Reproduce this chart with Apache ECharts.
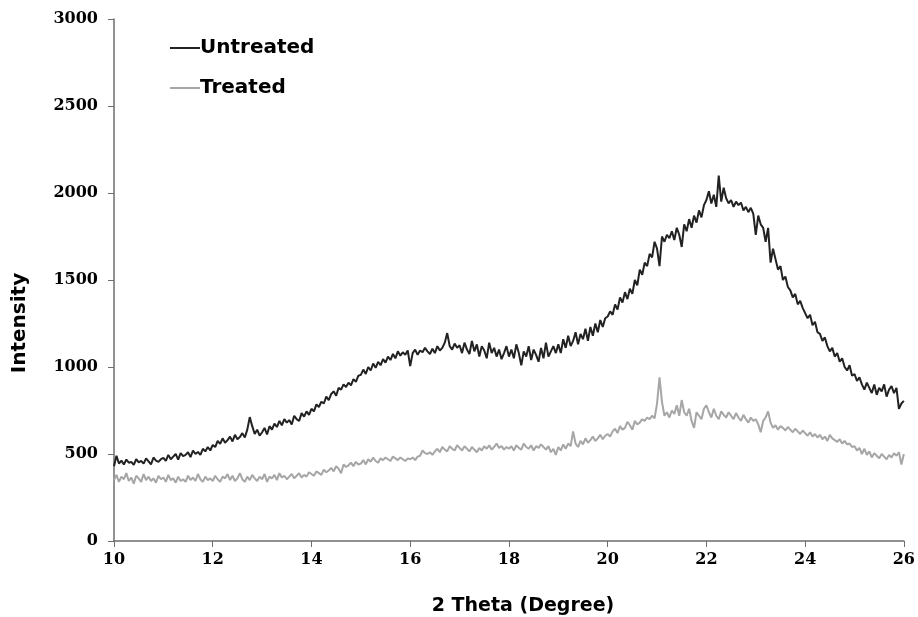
<!DOCTYPE html>
<html>
<head>
<meta charset="utf-8">
<script src="https://cdn.jsdelivr.net/npm/echarts@6/dist/echarts.min.js"></script>
<style>
  html, body { margin: 0; padding: 0; background: #fff; }
  #chart { width: 918px; height: 617px; }
</style>
</head>
<body>
<div id="chart"></div>
<script>
// 2 theta grid: 10 to 26 deg, 0.05 deg step
const thetaStart = 10;
const thetaStep = 0.05;

// intensity, one row per degree (20 points each)
const untreated = [
  430, 490, 445, 462, 440, 468, 450, 455, 438, 470, 452, 460, 445, 475, 458, 440, 480, 462, 455, 470,
  478, 460, 495, 470, 485, 500, 468, 505, 488, 495, 510, 482, 520, 500, 512, 495, 530, 515, 540, 520,
  552, 540, 575, 558, 590, 565, 580, 600, 572, 610, 585, 598, 620, 595, 640, 712, 660, 615, 640, 605,
  625, 650, 612, 660, 640, 675, 655, 690, 665, 700, 680, 695, 670, 720, 700, 690, 735, 715, 745, 725,
  760, 745, 785, 770, 800, 790, 830, 810, 845, 860, 835, 880, 870, 900, 885, 910, 895, 930, 915, 950,
  955, 985, 960, 1000, 980, 1020, 995, 1030, 1010, 1045, 1025, 1060, 1040, 1075, 1050, 1090, 1065, 1085, 1070, 1095,
  1005, 1080, 1100, 1070, 1095, 1085, 1110, 1090, 1075, 1105, 1080, 1120, 1095, 1110, 1140, 1195, 1120, 1100, 1135, 1110,
  1125, 1080, 1140, 1100, 1075, 1150, 1090, 1130, 1060, 1120, 1095, 1050, 1140, 1080, 1110, 1060, 1100, 1045, 1080, 1120,
  1060, 1100, 1050, 1130, 1080, 1010, 1090, 1060, 1120, 1040, 1100, 1070, 1030, 1110, 1050, 1140, 1060, 1090, 1120, 1080,
  1130, 1080, 1160, 1110, 1180, 1120, 1150, 1200, 1130, 1190, 1160, 1220, 1150, 1230, 1180, 1250, 1200, 1270, 1230, 1280,
  1290, 1320, 1300, 1360, 1330, 1400, 1370, 1430, 1390, 1450, 1420, 1500, 1470, 1560, 1530, 1600, 1580, 1650, 1630, 1720,
  1680, 1580, 1750, 1720, 1760, 1740, 1780, 1730, 1800, 1760, 1690, 1820, 1780, 1850, 1800, 1870, 1830, 1900, 1860, 1930,
  1960, 2010, 1940, 1990, 1920, 2100, 1950, 2030, 1970, 1940, 1960, 1920, 1950, 1930, 1945, 1900, 1920, 1890, 1915, 1880,
  1760, 1870, 1820, 1800, 1720, 1800, 1600, 1680, 1620, 1560, 1580, 1500, 1520, 1460, 1440, 1400, 1420, 1360, 1380, 1340,
  1310, 1280, 1300, 1240, 1260, 1200, 1190, 1150, 1170, 1120, 1090, 1110, 1060, 1080, 1030, 1050, 1000, 980, 1010, 950,
  960, 920, 940, 900, 870, 910, 880, 850, 900, 840, 880, 860, 900, 830, 870, 890, 850, 880, 760, 790,
  805
];

const treated = [
  350, 380, 340, 370, 355, 390, 345, 365, 330, 375, 360, 340, 385, 350, 370, 345, 360, 335, 375, 355,
  365, 340, 380, 350, 360, 335, 370, 345, 355, 340, 375, 350, 365, 345, 385, 355, 340, 370, 350, 360,
  345, 375, 355, 340, 370, 360, 385, 350, 375, 345, 360, 390, 355, 340, 370, 350, 380, 360, 345, 370,
  355, 385, 340, 370, 360, 380, 350, 390, 365, 375, 355, 370, 385, 360, 375, 390, 365, 380, 370, 395,
  385, 375, 400, 390, 380, 410, 395, 405, 420, 400, 430, 415, 390, 440, 425, 435, 450, 430, 455, 440,
  445, 465, 440, 470, 455, 480, 460, 450, 475, 465, 480, 470, 460, 485, 475, 465, 480, 470, 460, 475,
  470, 480, 465, 485, 490, 520, 505, 500, 510, 495, 515, 530, 510, 540, 525, 515, 545, 530, 520, 550,
  535, 520, 545, 530, 515, 540, 525, 510, 535, 520, 545, 530, 550, 525, 540, 560, 535, 545, 525, 540,
  530, 545, 520, 550, 535, 525, 560, 540, 530, 550, 520, 545, 535, 555, 540, 525, 545, 510, 530, 495,
  540, 520, 555, 530, 560, 545, 630, 560, 540, 575, 555, 590, 565, 580, 600, 575, 590, 610, 585, 605,
  615, 600, 630, 645, 620, 660, 640, 650, 685, 665, 640, 690, 670, 680, 700, 690, 710, 700, 720, 705,
  790, 940, 800, 720, 740, 710, 750, 730, 780, 720, 810, 740, 720, 760, 690, 650, 740, 720, 700, 760,
  780, 740, 710, 760, 720, 700, 745, 725, 710, 740, 720, 700, 735, 710, 690, 725, 700, 680, 710, 690,
  700, 670, 625, 690, 710, 745, 680, 650, 665, 640, 660, 650, 635, 655, 640, 625, 645, 630, 615, 635,
  620, 605, 625, 600, 615, 595, 610, 585, 600, 575, 610, 590, 580, 570, 585, 560, 575, 555, 560, 540,
  545, 520, 535, 500, 530, 495, 515, 480, 505, 490, 475, 500, 485, 470, 495, 480, 505, 490, 510, 440,
  500
];

const seriesNames = ['Untreated', 'Treated'];
const seriesColors = ['#222222', '#a6a6a6'];

function toPairs(values) {
  return values.map((v, i) => [+(thetaStart + i * thetaStep).toFixed(2), v]);
}

const chart = echarts.init(document.getElementById('chart'), null, { renderer: 'canvas' });

const axisColor = '#6e6e6e';
const titleFont = { fontFamily: 'DejaVu Sans', fontWeight: 'bold', fill: '#000', align: 'center', verticalAlign: 'middle' };

chart.setOption({
  animation: false,
  backgroundColor: '#fff',
  color: seriesColors,
  grid: { left: 114, right: 13, top: 19, bottom: 76 },
  legend: {
    orient: 'vertical',
    left: 165,
    top: 33,
    itemGap: 20,
    itemWidth: 30,
    itemHeight: 2,
    icon: 'rect',
    textStyle: {
      fontFamily: 'DejaVu Sans',
      fontWeight: 'bold',
      fontSize: 20,
      color: '#000',
      padding: [0, 0, 0, -5]
    },
    data: seriesNames
  },
  // axis titles are off-centre in the original, so they are placed by hand
  graphic: [
    {
      type: 'text',
      x: 20,
      y: 323,
      rotation: Math.PI / 2,
      style: Object.assign({ text: 'Intensity', fontSize: 20 }, titleFont)
    },
    {
      type: 'text',
      x: 523,
      y: 606,
      style: Object.assign({ text: '2 Theta (Degree)', fontSize: 19 }, titleFont)
    }
  ],
  xAxis: {
    type: 'value',
    min: 10,
    max: 26,
    interval: 2,
    axisLine: { lineStyle: { color: axisColor, width: 1.5 } },
    axisTick: { length: 6, lineStyle: { color: axisColor } },
    axisLabel: {
      margin: 11,
      fontFamily: 'DejaVu Serif',
      fontWeight: 'bold',
      fontSize: 16,
      color: '#000'
    },
    splitLine: { show: false }
  },
  yAxis: {
    type: 'value',
    min: 0,
    max: 3000,
    interval: 500,
    axisLine: { show: true, lineStyle: { color: axisColor, width: 1.5 } },
    axisTick: { show: true, length: 6, lineStyle: { color: axisColor } },
    axisLabel: {
      margin: 16,
      fontFamily: 'DejaVu Serif',
      fontWeight: 'bold',
      fontSize: 16,
      color: '#000',
      formatter: v => String(v)
    },
    splitLine: { show: false }
  },
  series: [
    {
      name: seriesNames[0],
      type: 'line',
      showSymbol: false,
      symbol: 'none',
      lineStyle: { width: 2, color: seriesColors[0] },
      data: toPairs(untreated)
    },
    {
      name: seriesNames[1],
      type: 'line',
      showSymbol: false,
      symbol: 'none',
      lineStyle: { width: 2, color: seriesColors[1] },
      data: toPairs(treated)
    }
  ]
});
</script>
</body>
</html>
